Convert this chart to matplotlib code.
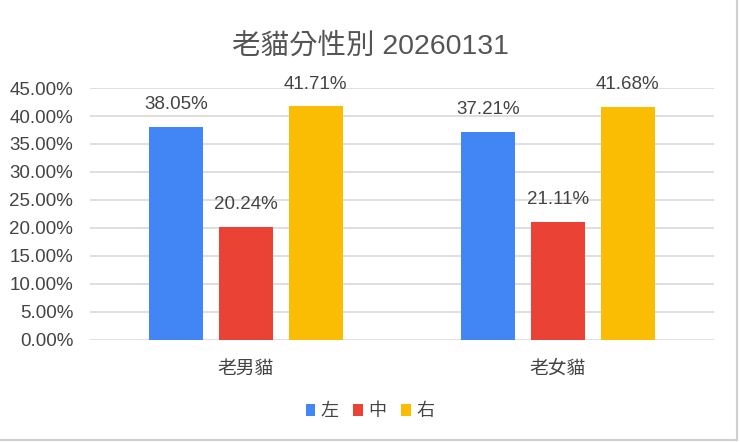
import numpy as np
import matplotlib.pyplot as plt
from matplotlib.lines import Line2D
from matplotlib.ticker import FuncFormatter

categories = ['老男貓', '老女貓']
series_names = ['左', '中', '右']
left_vals = [38.05, 37.21]
mid_vals = [20.24, 21.11]
right_vals = [41.71, 41.68]
colors = ['#4285F4', '#EA4335', '#FBBC04']

plt.rcParams['font.family'] = ['Liberation Sans', 'Noto Sans CJK TC']

fig = plt.figure(figsize=(7.4, 4.42), dpi=100)
ax = fig.add_axes([0.1216, 0.2308, 0.8432, 0.5701])

x = np.arange(len(categories))
width = 0.173
step = 0.224
for i, (name, vals) in enumerate(zip(series_names, [left_vals, mid_vals, right_vals])):
    pos = x + (i - 1) * step
    bars = ax.bar(pos, vals, width, color=colors[i], label=name, zorder=3)
    for px, v in zip(pos, vals):
        ax.annotate('%.2f%%' % v, (px, v), xytext=(0, 10), textcoords='offset points',
                    ha='center', va='bottom', fontsize=13.5, color='#444444')

ax.set_xlim(-0.5, 1.5)
ax.set_ylim(0, 45)
ax.set_yticks(np.arange(0, 46, 5))
ax.yaxis.set_major_formatter(FuncFormatter(lambda v, p: '%.2f%%' % v))
ax.set_xticks(x)
ax.set_xticklabels(categories)
ax.tick_params(axis='both', length=0, labelsize=13.5, colors='#444444')
ax.tick_params(axis='x', pad=15)
ax.tick_params(axis='y', pad=12)
ax.grid(axis='y', color='#D9D9D9', linewidth=1.2, zorder=0)
for s in ax.spines.values():
    s.set_visible(False)

fig.suptitle('老貓分性別 20260131', x=0.5, y=0.925, fontsize=20.5, color='#555555')

leg = fig.legend(loc='center', bbox_to_anchor=(0.5, 0.068), ncol=3, frameon=False,
                 fontsize=13, handlelength=0.55, handleheight=0.7, handletextpad=0.3,
                 columnspacing=0.8)
for t in leg.get_texts():
    t.set_color('#444444')

# sheet edges
fig.add_artist(Line2D([0.996, 0.996], [0.004, 1], transform=fig.transFigure, color='#D0D0D0', lw=1.5))
fig.add_artist(Line2D([0, 0.996], [0.004, 0.004], transform=fig.transFigure, color='#D0D0D0', lw=1.5))

fig.savefig('out.png', dpi=100)
